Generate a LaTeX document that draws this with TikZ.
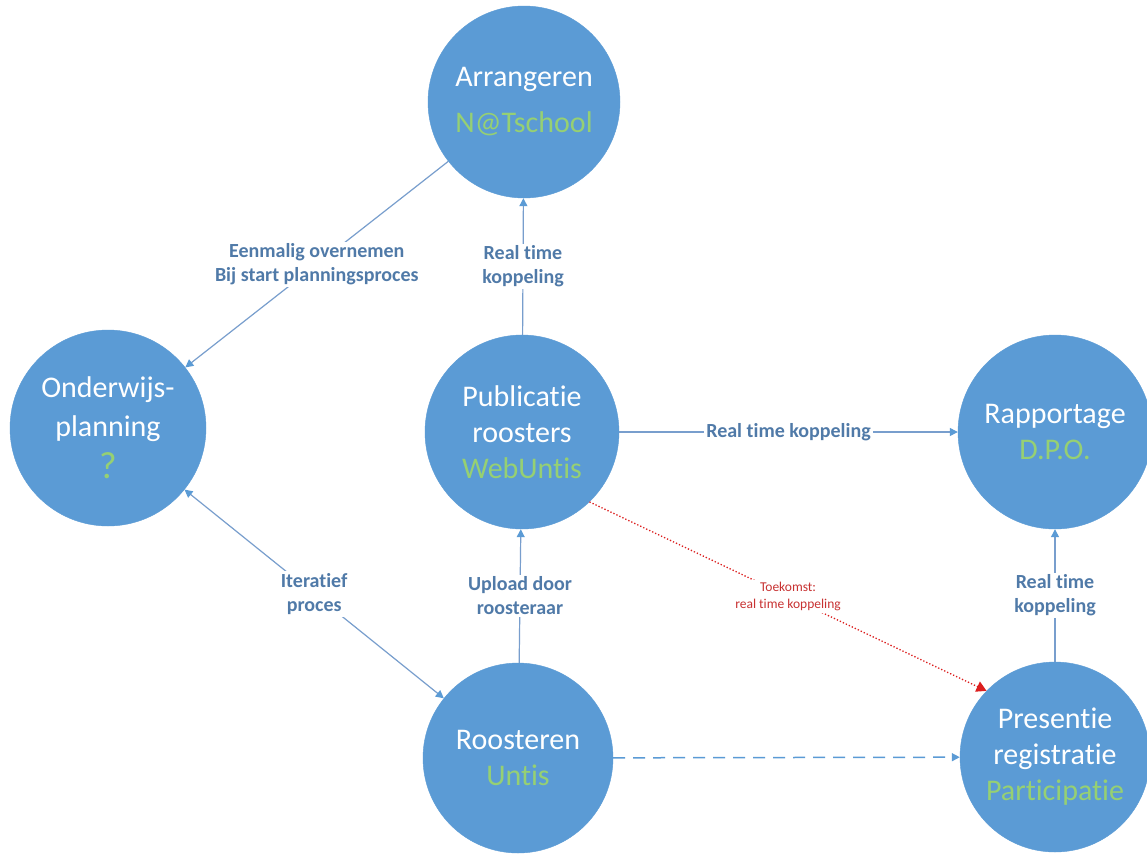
\documentclass[tikz,border=0pt]{standalone}
\usepackage{fontspec}
\setmainfont[Ligatures=NoCommon]{Carlito}
\usetikzlibrary{arrows.meta}
\definecolor{circblue}{RGB}{91,155,213}
\definecolor{linkblue}{RGB}{120,158,205}
\definecolor{labblue}{RGB}{80,122,168}
\definecolor{softgreen}{RGB}{150,208,115}
\definecolor{futred}{RGB}{220,30,30}
\definecolor{labred}{RGB}{200,50,50}
\tikzset{
  proc/.style={circle, fill=circblue, draw=circblue, inner sep=0pt, text=white, align=center,
    font=\fontsize{30}{36}\selectfont},
  link/.style={draw=linkblue, line width=1.2pt, -{Triangle[width=8pt,length=8pt,color=circblue,fill=circblue]}},
  twolink/.style={draw=linkblue, line width=1.2pt, {Triangle[width=8pt,length=8pt,color=circblue,fill=circblue]}-{Triangle[width=8pt,length=8pt,color=circblue,fill=circblue]}},
  lab/.style={fill=white, text=labblue, align=center, inner sep=2pt, font=\bfseries\fontsize{20}{24}\selectfont},
  futlink/.style={draw=futred, line width=1.3pt, dotted, -{Triangle[width=11pt,length=10pt,color=futred,fill=futred]}},
  futlab/.style={fill=white, text=labred, align=center, inner sep=2pt, font=\fontsize{13.5}{17}\selectfont},
}
\begin{document}
\begin{tikzpicture}[x=1pt,y=-1pt]
\useasboundingbox[fill=white] (0,0) rectangle (1147,857);
\node[proc, minimum size=192pt] (arr) at (524,102) {\raisebox{-4pt}{Arrangeren}\\[10pt]\raisebox{-4pt}{\textcolor{softgreen}{N@Tschool}}};
\node[proc, minimum size=196pt] (ond) at (108,428) {Onderwijs-\\[3pt]planning\\[6pt]\textcolor{softgreen}{\fontsize{38}{40}\selectfont ?}};
\node[proc, minimum size=194pt] (pub) at (522,432) {Publicatie\\roosters\\\textcolor{softgreen}{WebUntis}};
\node[proc, minimum size=194pt] (rap) at (1055,432) {Rapportage\\\textcolor{softgreen}{D.P.O.}};
\node[proc, minimum size=190pt] (roo) at (518,758) {Roosteren\\\textcolor{softgreen}{Untis}};
\node[proc, minimum size=190pt] (pre) at (1055,757) {Presentie\\registratie\\\textcolor{softgreen}{Participatie}};

\draw[link] (arr) -- node[lab] {Eenmalig overnemen\\Bij start planningsproces} (ond);
\draw[link] (pub) -- node[lab] {Real time\\koppeling} (arr);
\draw[link] (pub) -- node[lab] {Real time koppeling} (rap);
\draw[link] (roo) -- node[lab] {Upload door\\roosteraar} (pub);
\draw[twolink] (ond) -- node[lab] {Iteratief\\proces} (roo);
\draw[link] (pre) -- node[lab] {Real time\\koppeling} (rap);
\draw[link, draw=circblue, line width=1.5pt, dash pattern=on 12pt off 8pt] (roo) -- (pre);
\draw[futlink] (pub.-46) -- node[futlab] {Toekomst:\\real time koppeling} (pre.136);
\end{tikzpicture}
\end{document}
